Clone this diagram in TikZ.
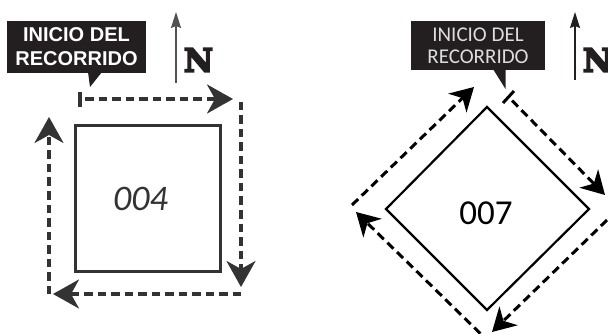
\documentclass[tikz,border=0pt]{standalone}
\usepackage{fontspec}
\setmainfont{Liberation Sans}
\newfontfamily\lblfont{Carlito}
\newfontfamily\nfont{DejaVu Serif Bold}
\newcommand\heavyN{\special{pdf:literal direct 2 Tr 1.8 w 0 j}N\special{pdf:literal direct 0 Tr}}
\usetikzlibrary{arrows.meta}
\definecolor{ink}{HTML}{333333}
\definecolor{boxblack}{HTML}{231F20}
\definecolor{lbltext}{HTML}{DDDDDD}
\begin{document}
\begin{tikzpicture}[x=1pt,y=-1pt,
  routeL/.style={draw=ink, line width=3.4pt, dash pattern=on 8.5pt off 5pt},
  routeR/.style={draw=black, line width=3pt, dash pattern=on 8.5pt off 5pt},
  bigtip/.style={-{Stealth[length=26pt,width=29pt,inset=8pt]}},
  smalltip/.style={-{Stealth[length=23pt,width=26pt,inset=7pt]}},
  northtip/.style={-{Stealth[length=16pt,width=10pt,inset=2pt]}},
  labelbox/.style={fill=boxblack, inner sep=0pt, align=center},
  ntext/.style={inner sep=0pt, font=\nfont\fontsize{32}{32}\selectfont, text=boxblack}]
\useasboundingbox (0,0) rectangle (608,334);
\clip (0,0) rectangle (608,334);

% ---------------- left panel ----------------
\node[draw=ink, line width=3.4pt, minimum width=145pt, minimum height=146pt, inner sep=0pt] (sq4) at (148,198.5) {};
\node[inner sep=0pt, text=ink, font=\lblfont\itshape\fontsize{36}{36}\selectfont] (n004) at (140.5,198.5) {004};

\coordinate (a0) at (80,99);
\coordinate (a1) at (233,99);
\coordinate (b0) at (241,102);
\coordinate (b1) at (241,287);
\coordinate (c0) at (241,294);
\coordinate (c1) at (53,294);
\coordinate (d0) at (49,294);
\coordinate (d1) at (49,117);
\draw[ink, line width=3.4pt] (80,92) -- (80,107);
\draw[routeL, dash phase=8.5pt, bigtip] (a0) -- (a1);
\draw[routeL, bigtip] (b0) -- (b1);
\draw[routeL, bigtip] (c0) -- (c1);
\draw[routeL, bigtip] (d0) -- (d1);

\node[labelbox, minimum width=139pt, minimum height=52pt, text=white,
      font=\bfseries\fontsize{20}{24}\selectfont] (lbl1) at (76.5,47) {INICIO DEL\\RECORRIDO};
\fill[boxblack] (88,72) -- (90,87) -- (102,72) -- cycle;

\coordinate (nA0) at (176,83);
\coordinate (nA1) at (176,12);
\draw[line width=1.5pt, ink!85, northtip] (nA0) -- (nA1);
\node[ntext] (N1) at (198.5,60) {\heavyN};

% ---------------- right panel ----------------
\coordinate (dt) at (487,107);
\coordinate (dr) at (589,209);
\coordinate (db) at (487,310);
\coordinate (dl) at (386,209);
\draw[line width=2.2pt, black, line join=miter] (dt) -- (dr) -- (db) -- (dl) -- cycle;
\node[inner sep=0pt, font=\lblfont\fontsize{35}{35}\selectfont] (n007) at (486,213) {007};

\coordinate (e0) at (352,205);
\coordinate (e1) at (474,87);
\coordinate (f0) at (508.5,97);
\coordinate (f1) at (605,195);
\coordinate (g0) at (607,220);
\coordinate (g1) at (492,332);
\coordinate (h0) at (490,343);
\coordinate (h1) at (356,212);
\draw[routeR, smalltip] (e0) -- (e1);
\draw[black, line width=3pt] (503,103) -- (514,91);
\draw[routeR, dash phase=8.5pt, smalltip] (f0) -- (f1);
\draw[routeR, smalltip] (g0) -- (g1);
\draw[routeR, smalltip] (h0) -- (h1);

\node[labelbox, minimum width=134pt, minimum height=49pt, text=lbltext,
      font=\lblfont\fontsize{21}{22}\selectfont] (lbl2) at (478,45.5) {INICIO DEL\\RECORRIDO};
\fill[boxblack] (493,69) -- (505.5,89) -- (505.5,69) -- cycle;

\coordinate (nB0) at (575,80);
\coordinate (nB1) at (575,12);
\draw[line width=1.3pt, boxblack, northtip] (nB0) -- (nB1);
\node[ntext] (N2) at (597.5,60) {\heavyN};
\end{tikzpicture}
\end{document}
